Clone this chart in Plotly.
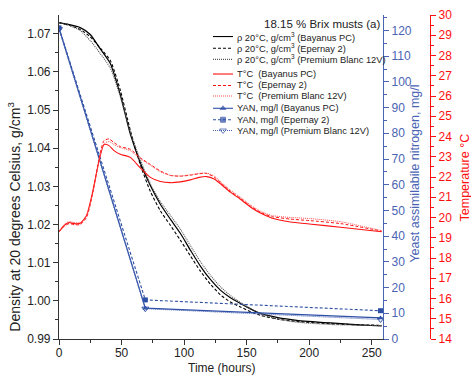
import plotly.graph_objects as go

# ---------------- data ----------------
# Density (g/cm3) vs time (h)
t_dens = [0, 8, 17, 25, 33, 41, 49, 57, 65, 73, 81, 89, 97, 105, 113, 121, 129, 137,
          145, 153, 161, 175, 190, 217, 240, 258]
dens_bayanus = [1.0729, 1.0724, 1.0716, 1.0698, 1.0660, 1.0622, 1.0540, 1.0437, 1.0362,
                1.0302, 1.0253, 1.0214, 1.0177, 1.0133, 1.0091, 1.0056, 1.0028, 1.0008,
                0.9993, 0.9979, 0.9967, 0.9956, 0.9949, 0.9942, 0.9937, 0.9934]
dens_epernay = [1.0729, 1.0722, 1.0711, 1.0692, 1.0662, 1.0630, 1.0552, 1.0447, 1.0357,
                1.0287, 1.0236, 1.0198, 1.0159, 1.0118, 1.0078, 1.0044, 1.0016, 0.9997,
                0.9984, 0.9972, 0.9962, 0.9952, 0.9946, 0.9940, 0.9937, 0.9936]
dens_premium = [1.0729, 1.0722, 1.0708, 1.0682, 1.0648, 1.0610, 1.0535, 1.0442, 1.0370,
                1.0307, 1.0260, 1.0224, 1.0188, 1.0145, 1.0103, 1.0067, 1.0037, 1.0014,
                0.9996, 0.9980, 0.9966, 0.9952, 0.9944, 0.9938, 0.9936, 0.9935]

# Temperature (deg C) vs time (h)
t_temp = [0, 4, 8, 12, 17, 22, 27, 32, 36, 40, 44, 49, 57, 65, 73, 81, 89, 97, 105, 112,
          118, 124, 130, 137, 145, 153, 161, 170, 185, 200, 225, 258]
temp_bayanus = [19.30, 19.60, 19.75, 19.70, 19.72, 20.10, 21.30, 22.80, 23.60, 23.55, 23.30,
                23.12, 22.97, 22.45, 21.98, 21.78, 21.72, 21.76, 21.86, 21.98, 22.02, 21.90,
                21.62, 21.25, 20.90, 20.52, 20.22, 19.98, 19.78, 19.68, 19.52, 19.30]
temp_epernay = [19.30, 19.55, 19.70, 19.65, 19.65, 20.00, 21.20, 22.90, 23.80, 23.88, 23.70,
                23.50, 23.37, 22.95, 22.62, 22.30, 22.08, 22.04, 22.09, 22.16, 22.17, 22.00,
                21.67, 21.30, 20.95, 20.57, 20.26, 20.05, 19.92, 19.85, 19.70, 19.33]
temp_premium = [19.30, 19.65, 19.80, 19.75, 19.75, 20.10, 21.20, 22.80, 23.65, 23.75, 23.60,
                23.45, 23.30, 22.90, 22.58, 22.26, 22.08, 22.05, 22.11, 22.18, 22.20, 22.05,
                21.72, 21.35, 21.00, 20.62, 20.31, 20.10, 20.00, 19.95, 19.79, 19.35]

# Yeast assimilable nitrogen (mg/l)
t_yan = [0, 69, 257]
yan_bayanus = [121.0, 12.0, 8.2]
yan_epernay = [121.0, 15.2, 11.0]
yan_premium = [120.5, 11.8, 7.6]

# axis ticks
x_ticks = [0, 50, 100, 150, 200, 250]
dens_ticks = [0.99, 1.00, 1.01, 1.02, 1.03, 1.04, 1.05, 1.06, 1.07]
yan_ticks = [0, 10, 20, 30, 40, 50, 60, 70, 80, 90, 100, 110, 120]
temp_ticks = list(range(14, 31))

legend_labels = [
    "ρ 20°C, g/cm<sup>3</sup> (Bayanus PC)",
    "ρ 20°C, g/cm<sup>3</sup> (Epernay 2)",
    "ρ 20°C, g/cm<sup>3</sup> (Premium Blanc 12V)",
    "T°C  (Bayanus PC)",
    "T°C  (Epernay 2)",
    "T°C  (Premium Blanc 12V)",
    "YAN, mg/l (Bayanus PC)",
    "YAN, mg/l (Epernay 2)",
    "YAN, mg/l (Premium Blanc 12V)",
]

# ---------------- styling ----------------
FONT = "Liberation Sans, Arial, sans-serif"
BLACK = "#000000"
GRAY = "#555555"
RED = "#ff1010"
RED_L = "#ff5050"
BLUE = "#2e4fa6"
BLUE_AX = "#4a64b4"
TXT = "#222222"

W, H = 471, 376
ML, MR, MT, MB = 59, 31, 8, 37
PW = W - ML - MR
PH = H - MT - MB
X_RIGHT = 383      # pixel of YAN axis
X_TEMP = 430       # pixel of temperature axis


def px(xp):
    return (xp - ML) / PW


def py(yp):
    return (H - MB - yp) / PH


fig = go.Figure()

sm = 0.6
# density
fig.add_trace(go.Scatter(x=t_dens, y=dens_bayanus, mode="lines", line=dict(color=BLACK, width=1.2, shape="spline", smoothing=sm), showlegend=False))
fig.add_trace(go.Scatter(x=t_dens, y=dens_epernay, mode="lines", line=dict(color=BLACK, width=1.1, dash="3px,2px", shape="spline", smoothing=sm), showlegend=False))
fig.add_trace(go.Scatter(x=t_dens, y=dens_premium, mode="lines", line=dict(color=GRAY, width=1.1, dash="1px,1px", shape="spline", smoothing=sm), showlegend=False))
# temperature
fig.add_trace(go.Scatter(x=t_temp, y=temp_bayanus, yaxis="y3", mode="lines", line=dict(color=RED, width=1.1, shape="spline", smoothing=sm), showlegend=False))
fig.add_trace(go.Scatter(x=t_temp, y=temp_epernay, yaxis="y3", mode="lines", line=dict(color=RED, width=1.0, dash="3px,2px", shape="spline", smoothing=sm), showlegend=False))
fig.add_trace(go.Scatter(x=t_temp, y=temp_premium, yaxis="y3", mode="lines", line=dict(color=RED_L, width=1.0, dash="1px,1px", shape="spline", smoothing=sm), showlegend=False))
# YAN
fig.add_trace(go.Scatter(x=t_yan, y=yan_bayanus, yaxis="y2", mode="lines+markers", line=dict(color=BLUE, width=1.2),
                         marker=dict(symbol="triangle-up", size=5, color=BLUE), showlegend=False))
fig.add_trace(go.Scatter(x=t_yan, y=yan_epernay, yaxis="y2", mode="lines+markers", line=dict(color=BLUE, width=1.1, dash="3px,2px"),
                         marker=dict(symbol="square", size=5, color=BLUE), showlegend=False))
fig.add_trace(go.Scatter(x=t_yan, y=yan_premium, yaxis="y2", mode="lines+markers", line=dict(color=BLUE_AX, width=1.1, dash="1px,1px"),
                         marker=dict(symbol="triangle-down-open", size=6, color=BLUE, line=dict(width=1)), showlegend=False))

# ---------------- manual legend (pixel coordinate overlay) ----------------
leg_y = [30, 42, 53.3, 68.3, 80, 90.7, 103.3, 115, 126]
leg_styles = [
    (BLACK, None), (BLACK, "3px,2px"), (GRAY, "1px,1px"),
    (RED, None), (RED, "3px,2px"), (RED_L, "1px,1px"),
    (BLUE, None), (BLUE, "3px,2px"), (BLUE_AX, "1px,1px"),
]
for (col, dash), yy in zip(leg_styles, leg_y):
    fig.add_trace(go.Scatter(x=[213, 233], y=[yy, yy], xaxis="x4", yaxis="y4", mode="lines",
                             line=dict(color=col, width=1.1, dash=dash), showlegend=False, hoverinfo="skip"))
fig.add_trace(go.Scatter(x=[223, 223, 223], y=leg_y[6:], xaxis="x4", yaxis="y4", mode="markers",
                         marker=dict(symbol=["triangle-up", "square", "triangle-down-open"], size=[5, 5, 6],
                                     color=BLUE, line=dict(width=1, color=BLUE)),
                         showlegend=False, hoverinfo="skip"))

annotations = []
for lab, yy in zip(legend_labels, leg_y):
    annotations.append(dict(x=px(235), y=py(yy), xref="paper", yref="paper", text=lab, showarrow=False,
                            xanchor="left", yanchor="middle", font=dict(family=FONT, size=9.3, color=TXT)))
annotations.append(dict(x=px(382), y=py(17), xref="paper", yref="paper", text="18.15 % Brix musts (a)", showarrow=False,
                        xanchor="right", yanchor="middle", font=dict(family=FONT, size=11.5, color=TXT)))
# axis titles
annotations.append(dict(x=px(14), y=py(214), xref="paper", yref="paper", text="Density at 20 degrees Celsius, g/cm<sup>3</sup>",
                        showarrow=False, textangle=-90, xanchor="center", yanchor="middle",
                        font=dict(family=FONT, size=14, color=TXT)))
annotations.append(dict(x=px(222), y=py(369), xref="paper", yref="paper", text="Time (hours)", showarrow=False,
                        xanchor="center", yanchor="middle", font=dict(family=FONT, size=12, color=TXT)))
annotations.append(dict(x=px(415), y=py(170), xref="paper", yref="paper", text="Yeast assimilabile nitrogen, mg/l", showarrow=False,
                        textangle=-90, xanchor="center", yanchor="middle", font=dict(family=FONT, size=12.5, color=BLUE_AX)))
annotations.append(dict(x=px(465), y=py(174), xref="paper", yref="paper", text="Temperature °C", showarrow=False,
                        textangle=-90, xanchor="center", yanchor="middle", font=dict(family=FONT, size=12.5, color=RED)))

xdom = (X_RIGHT - ML) / PW

fig.update_layout(
    width=W, height=H,
    margin=dict(l=ML, r=MR, t=MT, b=MB, pad=0),
    paper_bgcolor="white", plot_bgcolor="rgba(0,0,0,0)",
    showlegend=False,
    annotations=annotations,
    xaxis=dict(domain=[0, xdom], range=[0, 259], tickvals=x_ticks, ticks="outside", ticklen=5, tickwidth=1,
               tickcolor="#333333", showline=True, linecolor="#333333", linewidth=1.2, showgrid=False, zeroline=False,
               tickfont=dict(family=FONT, size=12, color=TXT), ticklabelstandoff=-3,
               minor=dict(dtick=25, ticks="outside", ticklen=3, tickcolor="#333333", showgrid=False)),
    yaxis=dict(range=[0.99, 1.0749], tickvals=dens_ticks, tickformat=".2f", ticks="outside", ticklen=5, tickwidth=1,
               tickcolor="#333333", showline=True, linecolor="#333333", linewidth=1.2, showgrid=False, zeroline=False,
               tickfont=dict(family=FONT, size=12, color=TXT),
               minor=dict(dtick=0.005, tick0=0.99, ticks="outside", ticklen=3, tickcolor="#333333", showgrid=False)),
    yaxis2=dict(range=[0, 126], overlaying="y", side="right", anchor="x", tickvals=yan_ticks, ticks="outside",
                ticklen=5, tickwidth=1, tickcolor=BLUE_AX, showline=True, linecolor=BLUE_AX, linewidth=1.2,
                showgrid=False, zeroline=False, tickfont=dict(family=FONT, size=12, color=BLUE_AX),
                minor=dict(dtick=5, ticks="outside", ticklen=3, tickcolor=BLUE_AX, showgrid=False)),
    yaxis3=dict(range=[14, 30], overlaying="y", side="right", anchor="free", position=px(X_TEMP),
                tickvals=temp_ticks, ticks="outside", ticklen=5, tickwidth=1, tickcolor=RED, showline=True,
                linecolor=RED, linewidth=1.2, showgrid=False, zeroline=False,
                tickfont=dict(family=FONT, size=12, color=RED),
                minor=dict(dtick=0.5, ticks="outside", ticklen=3, tickcolor=RED, showgrid=False)),
    xaxis4=dict(domain=[0, 1], range=[ML, W - MR], anchor="y4", visible=False, fixedrange=True),
    yaxis4=dict(domain=[0, 1], range=[H - MB, MT], anchor="x4", visible=False, fixedrange=True),
)

fig.write_html("out.html")
